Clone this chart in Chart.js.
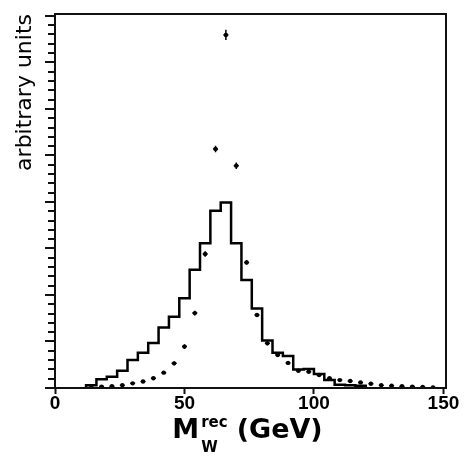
<!DOCTYPE html>
<html><head><meta charset="utf-8">
<script src="https://cdn.jsdelivr.net/npm/chart.js@4/dist/chart.umd.min.js"></script>
<style>html,body{margin:0;padding:0;background:#fff;}#wrap{width:466px;height:459px;position:relative;}</style>
</head><body><div id="wrap"><canvas id="c" width="466" height="459" style="width:466px;height:459px;"></canvas></div>
<script>
// Histogram (reconstructed W mass), 4 GeV bins, bin centres
const histCenters = [14,18,22,26,30,34,38,42,46,50,54,58,62,66,70,74,78,82,86,90,94,98,102,106,110,114,118];
const histValues  = [0.06,0.19,0.24,0.37,0.60,0.76,0.97,1.30,1.53,1.93,2.54,3.11,3.81,3.99,3.11,2.32,1.71,1.02,0.76,0.69,0.40,0.41,0.30,0.17,0.07,0.06,0.05];
// Points with error bars
const pointCenters = [14,18,22,26,30,34,38,42,46,50,54,58,62,66,70,74,78,82,86,90,94,98,102,106,110,114,118,122,126,130,134,138,142,146];
const pointValues  = [0.01,0.03,0.04,0.06,0.10,0.14,0.21,0.33,0.53,0.89,1.61,2.88,5.14,7.59,4.78,2.70,1.57,0.96,0.71,0.54,0.37,0.35,0.28,0.21,0.17,0.15,0.12,0.09,0.06,0.05,0.04,0.03,0.02,0.01];
const pointErrors  = [0.01,0.01,0.01,0.02,0.02,0.02,0.03,0.03,0.04,0.05,0.05,0.06,0.07,0.11,0.07,0.05,0.04,0.04,0.03,0.03,0.03,0.03,0.02,0.02,0.02,0.02,0.02,0.01,0.01,0.01,0.01,0.01,0.01,0.01];
const binWidth = 4;
const xTickValues = [0, 50, 100, 150];
const yMinorStep = 0.2;
const yMajorEvery = 5;
const xTitle = {main: 'M', sup: 'rec', sub: 'W', unit: '(GeV)'};
const yTitle = 'arbitrary units';

const histData = [{x: histCenters[0] - binWidth/2, y: 0}];
histCenters.forEach((c, i) => histData.push({x: c - binWidth/2, y: histValues[i]}));
histData.push({x: histCenters[histCenters.length-1] + binWidth/2, y: 0});
const pointData = pointCenters.map((c, i) => ({x: c, y: pointValues[i]}));

const decor = {
  id: 'decor',
  afterDatasetsDraw(chart) {
    const {ctx, scales: {x, y}} = chart;
    ctx.save();
    ctx.strokeStyle = '#000'; ctx.lineWidth = 1.5;
    pointCenters.forEach((c, i) => {
      const px = x.getPixelForValue(c);
      const py = y.getPixelForValue(pointValues[i]);
      const e1 = y.getPixelForValue(pointValues[i] + pointErrors[i]);
      const e2 = y.getPixelForValue(Math.max(0, pointValues[i] - pointErrors[i]));
      ctx.beginPath();
      ctx.moveTo(px, e1); ctx.lineTo(px, e2);
      ctx.moveTo(px - 2.5, py); ctx.lineTo(px + 2.5, py);
      ctx.stroke();
    });
    ctx.restore();
  },
  afterDraw(chart) {
    const {ctx, chartArea: a, scales: {x, y}} = chart;
    ctx.save();
    ctx.strokeStyle = '#111'; ctx.lineWidth = 2;
    ctx.strokeRect(a.left, a.top, a.right - a.left, a.bottom - a.top);
    // y axis tick marks
    ctx.beginPath();
    const n = Math.floor((y.max + 1e-9) / yMinorStep);
    for (let i = 0; i <= n; i++) {
      const py = Math.round(y.getPixelForValue(i * yMinorStep));
      const len = (i % yMajorEvery === 0) ? 10 : 7;
      ctx.moveTo(a.left - len, py); ctx.lineTo(a.left, py);
    }
    ctx.lineWidth = 2;
    ctx.stroke();
    // x title
    const cx = (a.left + a.right) / 2;
    const base = a.bottom + 50;
    ctx.fillStyle = '#000'; ctx.textAlign = 'left'; ctx.textBaseline = 'alphabetic';
    ctx.font = 'bold 27px "DejaVu Sans"';
    const wM = ctx.measureText(xTitle.main).width;
    ctx.font = 'bold 15px "DejaVu Sans"';
    const wS = Math.max(ctx.measureText(xTitle.sup).width, ctx.measureText(xTitle.sub).width);
    ctx.font = 'bold 27px "DejaVu Sans"';
    const wU = ctx.measureText(xTitle.unit).width;
    const gap = 9;
    const total = wM + 2 + wS + gap + wU;
    let x0 = cx - total / 2 - 3;
    ctx.fillText(xTitle.main, x0, base);
    ctx.font = 'bold 15px "DejaVu Sans"';
    ctx.fillText(xTitle.sup, x0 + wM + 2, base - 11);
    ctx.fillText(xTitle.sub, x0 + wM + 2, base + 14);
    ctx.font = 'bold 27px "DejaVu Sans"';
    ctx.fillText(xTitle.unit, x0 + wM + 2 + wS + gap, base);
    ctx.restore();
  }
};

new Chart(document.getElementById('c'), {
  type: 'scatter',
  data: {
    datasets: [
      {label: 'hist', data: histData, showLine: true, stepped: true, borderColor: '#000', borderWidth: 2.5,
       pointRadius: 0, fill: false, order: 2},
      {label: 'points', data: pointData, showLine: false, pointStyle: 'circle', pointRadius: 2.2,
       backgroundColor: '#000', borderColor: '#000', borderWidth: 0, order: 1}
    ]
  },
  options: {
    responsive: false,
    animation: false,
    devicePixelRatio: 1,
    layout: {padding: {top: 14, right: 20, left: 0, bottom: 0}},
    plugins: {legend: {display: false}, tooltip: {enabled: false}},
    scales: {
      x: {
        type: 'linear', position: 'bottom', min: 0, max: 151,
        afterBuildTicks(s) { s.ticks = xTickValues.map(v => ({value: v})); },
        ticks: {includeBounds: false, autoSkip: false, maxRotation: 0, padding: -2, color: '#000',
                font: {family: 'Liberation Sans', weight: 'bold', size: 19}},
        grid: {drawOnChartArea: false, drawTicks: true, tickLength: 6, tickWidth: 2, tickColor: '#111'},
        border: {display: false},
        afterFit(s) { s.height = 71; }
      },
      y: {
        type: 'linear', position: 'left', min: 0, max: 8.04,
        ticks: {display: false},
        grid: {display: false},
        border: {display: false},
        title: {display: true, text: yTitle, align: 'end', color: '#000',
                font: {family: 'DejaVu Sans', size: 22}, padding: {top: 12, bottom: 0}},
        afterFit(s) { s.width = 55; }
      }
    }
  },
  plugins: [decor]
});
</script>
</body></html>
